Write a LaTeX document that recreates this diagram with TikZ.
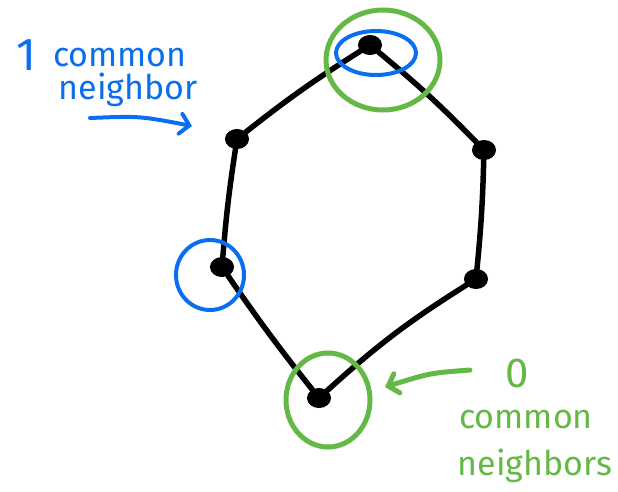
\documentclass[tikz,border=0pt]{standalone}
\usepackage{fontspec}
\setmainfont{Fira Sans}
\usetikzlibrary{arrows.meta,shapes.geometric}
\definecolor{hgreen}{HTML}{64B946}
\definecolor{hblue}{HTML}{0A6EF0}
\tikzset{
  vert/.style={ellipse,fill=black,draw=black,line width=1pt,minimum width=23pt,minimum height=19pt,inner sep=0pt},
  edge/.style={line width=5.5pt,line cap=round,line join=round},
  bluemark/.style={draw=hblue,line width=4pt},
  greenmark/.style={draw=hgreen,line width=5pt},
  bluetext/.style={text=hblue,font=\fontsize{34}{34}\selectfont},
  greentext/.style={text=hgreen,font=\fontsize{34}{34}\selectfont},
  barb/.style={-{Straight Barb[length=9pt,width=20pt,line cap=round]},line cap=round}
}
\begin{document}
\begin{tikzpicture}[x=1pt,y=-1pt]
\useasboundingbox (0,0) rectangle (618,491);
% vertices
\node[vert] (t) at (370,45) {};
\node[vert] (ul) at (237,139) {};
\node[vert] (ur) at (484,150) {};
\node[vert] (l) at (222,267) {};
\node[vert] (lr) at (476,279) {};
\node[vert] (b) at (319,398) {};
% edges
\draw[edge] (t) to[bend right=3] (ul);
\draw[edge] (t) to[bend left=3] (ur);
\draw[edge] (ul) to[bend right=2] (l);
\draw[edge] (ur) to[bend left=2] (lr);
\draw[edge] (l) to[bend right=2] (b);
\draw[edge] (b) to[bend left=5] (lr);
% blue marks
\draw[bluemark] (376,53) ellipse [x radius=40pt, y radius=22pt];
\draw[bluemark] (210,275) ellipse [x radius=34pt, y radius=35pt];
% green marks
\draw[greenmark] (383,60) ellipse [x radius=57pt, y radius=50pt];
\draw[greenmark] (328,400) ellipse [x radius=42pt, y radius=47pt];
% blue annotation
\node[bluetext] (one) at (26,55) {\fontsize{46}{46}\selectfont 1};
\node[bluetext] (c1) at (120,58) {common};
\node[bluetext] (n1) at (128,90) {neighbor};
\coordinate (a1s) at (90,118);
\coordinate (a1e) at (192,126);
\draw[hblue,line width=4pt,barb] (a1s) .. controls (140,116) .. (a1e);
% green annotation
\node[greentext] (zero) at (517,373) {\fontsize{42}{42}\selectfont 0};
\node[greentext] (c2) at (526,420) {common};
\node[greentext] (n2) at (535,466) {neighbors};
\coordinate (a2s) at (470,370);
\coordinate (a2e) at (385,387);
\draw[hgreen,line width=5pt,barb] (a2s) .. controls (430,373) .. (a2e);
\end{tikzpicture}
\end{document}
